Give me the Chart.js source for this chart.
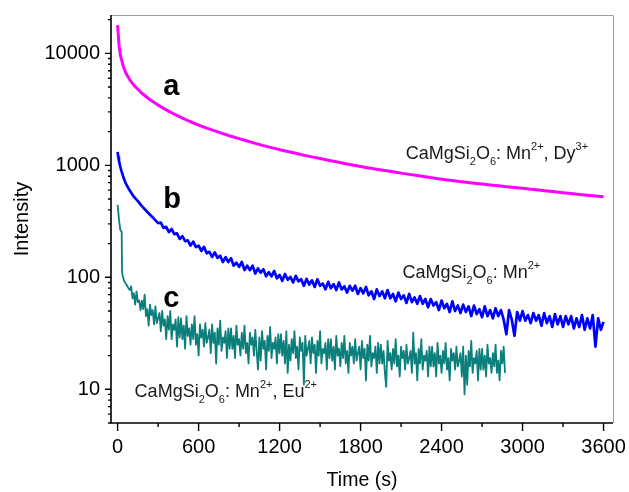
<!DOCTYPE html>
<html>
<head>
<meta charset="utf-8">
<script src="https://cdn.jsdelivr.net/npm/chart.js@4.4.0/dist/chart.umd.min.js"></script>
<style>
  html, body { margin: 0; padding: 0; background: #fff; }
  #wrap { width: 629px; height: 492px; }
</style>
</head>
<body>
<div id="wrap"><canvas id="decay"></canvas></div>
<script>
// axis ticks
const timeTicks = [0, 600, 1200, 1800, 2400, 3000, 3600];
const timeMinor = [300, 900, 1500, 2100, 2700, 3300];
const intensityTicks = [10, 100, 1000, 10000];
const intensityMinor = [5, 6, 7, 8, 9, 20, 30, 40, 50, 60, 70, 80, 90,
  200, 300, 400, 500, 600, 700, 800, 900,
  2000, 3000, 4000, 5000, 6000, 7000, 8000, 9000, 20000];

// curve a : CaMgSi2O6: Mn2+, Dy3+
const timeA = [0, 10, 20, 40, 60, 90, 120, 180, 240, 300, 360, 420, 480, 540, 600,
  660, 720, 780, 840, 900, 960, 1020, 1080, 1140, 1200, 1260, 1320, 1380, 1440, 1500,
  1560, 1620, 1680, 1740, 1800, 1860, 1920, 1980, 2040, 2100, 2160, 2220, 2280, 2340, 2400,
  2460, 2520, 2580, 2640, 2700, 2760, 2820, 2880, 2940, 3000, 3060, 3120, 3180, 3240, 3300,
  3360, 3420, 3480, 3540, 3600];
const valA = [17900, 12000, 9700, 7800, 6700, 5800, 5200, 4400, 3850, 3450, 3130, 2860, 2640, 2450, 2290,
  2150, 2030, 1920, 1820, 1730, 1650, 1570, 1500, 1440, 1380, 1330, 1280, 1230, 1190, 1150,
  1110, 1075, 1040, 1005, 975, 948, 922, 898, 875, 852, 830, 810, 790, 770, 752,
  735, 720, 706, 693, 680, 668, 656, 645, 634, 623, 612, 601, 590, 580, 570,
  560, 550, 541, 533, 525];

// curve b : CaMgSi2O6: Mn2+
const timeB = [0, 5, 10, 20, 30, 45, 60, 90, 120, 150, 180, 210, 240, 270,
  300, 320, 340, 360, 380, 400, 420, 440, 460, 480, 500, 520, 540, 560, 580,
  600, 620, 640, 660, 680, 700, 720, 740, 760, 780, 800, 820, 840, 860, 880,
  900, 920, 940, 960, 980, 1000, 1020, 1040, 1060, 1080, 1100, 1120, 1140, 1160, 1180,
  1200, 1220, 1240, 1260, 1280, 1300, 1320, 1340, 1360, 1380, 1400, 1420, 1440, 1460, 1480,
  1500, 1520, 1540, 1560, 1580, 1600, 1620, 1640, 1660, 1680, 1700, 1720, 1740, 1760, 1780,
  1800, 1820, 1840, 1860, 1880, 1900, 1920, 1940, 1960, 1980, 2000, 2020, 2040, 2060, 2080,
  2100, 2120, 2140, 2160, 2180, 2200, 2220, 2240, 2260, 2280, 2300, 2320, 2340, 2360, 2380,
  2400, 2420, 2440, 2460, 2480, 2500, 2520, 2540, 2560, 2580, 2600, 2620, 2640, 2660, 2680,
  2700, 2720, 2740, 2760, 2780, 2800, 2820, 2840, 2860, 2880, 2900, 2920, 2940, 2960, 2980,
  3000, 3020, 3040, 3060, 3080, 3100, 3120, 3140, 3160, 3180, 3200, 3220, 3240, 3260, 3280,
  3300, 3320, 3340, 3360, 3380, 3400, 3420, 3440, 3460, 3480, 3500, 3520, 3540, 3560, 3580,
  3600];
const valB = [1320, 1180, 1100, 970, 880, 770, 690, 595, 525, 478, 432, 395, 362, 333,
  305, 308, 277, 282, 253, 270, 243, 247, 220, 233, 210, 214, 192, 208, 186,
  192, 172, 187, 164, 169, 152, 167, 149, 156, 137, 151, 137, 148, 127, 135,
  124, 137, 116, 127, 116, 127, 108, 120, 110, 118, 102, 111, 102, 114, 98,
  105, 93, 107, 95, 101, 90, 103, 92, 96, 84, 97, 86, 94, 82, 96,
  84, 88, 78, 91, 80, 87, 77, 90, 78, 83, 73, 84, 76, 84, 71,
  80, 72, 82, 69, 75, 64, 78, 68, 75, 65, 77, 65, 71, 61, 73,
  64, 69, 59, 71, 60, 66, 58, 68, 58, 64, 54, 64, 56, 60, 51,
  62, 53, 58, 49, 61, 50, 56, 48, 57, 49, 55, 45, 56, 47, 52,
  44, 55, 45, 51, 43, 53, 45, 51, 42, 31, 51, 42, 30, 49, 41,
  50, 41, 46, 39, 48, 41, 46, 37, 48, 39, 45, 36, 47, 38, 45,
  36, 45, 38, 45, 35, 43, 36, 46, 34, 43, 35, 46, 24, 43, 34,
  40];

// curve c : CaMgSi2O6: Mn2+, Eu2+
const timeC = [0, 10, 20, 30, 33, 40, 50, 60, 70, 80, 90,
  100, 110, 120, 130, 140, 150, 160, 170, 180, 190, 200, 210, 220, 230, 240, 250, 260, 270, 280, 290,
  300, 310, 320, 330, 340, 350, 360, 370, 380, 390, 400, 410, 420, 430, 440, 450, 460, 470, 480, 490,
  500, 510, 520, 530, 540, 550, 560, 570, 580, 590, 600, 610, 620, 630, 640, 650, 660, 670, 680, 690,
  700, 710, 720, 730, 740, 750, 760, 770, 780, 790, 800, 810, 820, 830, 840, 850, 860, 870, 880, 890,
  900, 910, 920, 930, 940, 950, 960, 970, 980, 990, 1000, 1010, 1020, 1030, 1040, 1050, 1060, 1070, 1080, 1090,
  1100, 1110, 1120, 1130, 1140, 1150, 1160, 1170, 1180, 1190, 1200, 1210, 1220, 1230, 1240, 1250, 1260, 1270, 1280, 1290,
  1300, 1310, 1320, 1330, 1340, 1350, 1360, 1370, 1380, 1390, 1400, 1410, 1420, 1430, 1440, 1450, 1460, 1470, 1480, 1490,
  1500, 1510, 1520, 1530, 1540, 1550, 1560, 1570, 1580, 1590, 1600, 1610, 1620, 1630, 1640, 1650, 1660, 1670, 1680, 1690,
  1700, 1710, 1720, 1730, 1740, 1750, 1760, 1770, 1780, 1790, 1800, 1810, 1820, 1830, 1840, 1850, 1860, 1870, 1880, 1890,
  1900, 1910, 1920, 1930, 1940, 1950, 1960, 1970, 1980, 1990, 2000, 2010, 2020, 2030, 2040, 2050, 2060, 2070, 2080, 2090,
  2100, 2110, 2120, 2130, 2140, 2150, 2160, 2170, 2180, 2190, 2200, 2210, 2220, 2230, 2240, 2250, 2260, 2270, 2280, 2290,
  2300, 2310, 2320, 2330, 2340, 2350, 2360, 2370, 2380, 2390, 2400, 2410, 2420, 2430, 2440, 2450, 2460, 2470, 2480, 2490,
  2500, 2510, 2520, 2530, 2540, 2550, 2560, 2570, 2580, 2590, 2600, 2610, 2620, 2630, 2640, 2650, 2660, 2670, 2680, 2690,
  2700, 2710, 2720, 2730, 2740, 2750, 2760, 2770, 2780, 2790, 2800, 2810, 2820, 2830, 2840, 2850, 2860, 2870];
const valC = [443, 330, 265, 255, 110, 100, 92, 88, 84, 80, 77,
  83, 65, 72, 57, 75, 60, 62, 51, 62, 52, 70, 45, 52, 37, 57, 46, 51, 38, 55, 39,
  43, 48, 33, 50, 37, 42, 28, 45, 34, 50, 28, 38, 34, 42, 24, 44, 29, 43, 28, 37,
  23, 45, 30, 35, 25, 38, 28, 45, 25, 31, 20, 38, 29, 34, 24, 39, 26, 29, 34, 21,
  38, 26, 32, 17, 35, 25, 41, 22, 29, 26, 33, 19, 35, 23, 35, 23, 30, 19, 37, 25,
  28, 20, 32, 23, 37, 21, 26, 17, 32, 25, 29, 20, 34, 22, 15, 29, 18, 33, 23, 27,
  15, 30, 22, 36, 19, 26, 23, 29, 17, 31, 21, 31, 20, 27, 17, 33, 14, 25, 18, 28,
  21, 33, 19, 24, 15, 29, 22, 26, 11, 30, 20, 23, 27, 17, 29, 21, 25, 14, 27, 20,
  33, 17, 23, 21, 26, 15, 28, 19, 28, 18, 24, 15, 30, 20, 23, 16, 26, 19, 30, 17,
  22, 14, 26, 20, 24, 17, 28, 18, 21, 24, 15, 27, 19, 23, 12, 25, 18, 30, 16, 21,
  19, 24, 14, 26, 17, 25, 17, 22, 14, 10.5, 27, 18, 21, 15, 23, 17, 28, 16, 20, 13,
  24, 19, 22, 15, 25, 17, 19, 22, 14, 32, 17, 21, 12, 23, 17, 28, 15, 20, 18, 22,
  13, 24, 16, 24, 16, 21, 13, 26, 17, 20, 14, 22, 17, 26, 15, 19, 12, 23, 18, 21,
  15, 24, 16, 18, 21, 13, 24, 9, 20, 11, 22, 16, 27, 14, 19, 17, 22, 12, 23, 15,
  23, 15, 20, 13, 25, 17, 19, 14, 21, 16, 25, 14, 18, 12, 22, 17, 24, 14];

// text labels, anchored in data coordinates
const curveLetters = [
  { text: 'a', t: 339, v: 4250 },
  { text: 'b', t: 339, v: 416 },
  { text: 'c', t: 339, v: 54 }
];
const formulaLabels = [
  { t: 2135, v: 1130, parts: [['CaMgSi'], ['2', 'sub'], ['O'], ['6', 'sub'], [': Mn'], ['2+', 'sup'], [', Dy'], ['3+', 'sup']] },
  { t: 2110, v: 99, parts: [['CaMgSi'], ['2', 'sub'], ['O'], ['6', 'sub'], [': Mn'], ['2+', 'sup']] },
  { t: 126, v: 8.6, parts: [['CaMgSi'], ['2', 'sub'], ['O'], ['6', 'sub'], [': Mn'], ['2+', 'sup'], [', Eu'], ['2+', 'sup']] }
];

const FONT = '"Liberation Sans", Arial, sans-serif';

function pairs(ts, vs) {
  return ts.map((t, i) => ({ x: t, y: vs[i] }));
}

function drawFormula(ctx, x, y, parts) {
  for (let p of parts) {
    let txt = p[0], kind = p[1];
    let dy = 0;
    if (kind === 'sub') { ctx.font = '11px ' + FONT; dy = 6; }
    else if (kind === 'sup') { ctx.font = '11px ' + FONT; dy = -9; }
    else { ctx.font = '18px ' + FONT; }
    ctx.fillText(txt, x, y + dy);
    x += ctx.measureText(txt).width;
  }
}

// frame, tick marks and text labels
const decoration = {
  id: 'decoration',
  afterDatasetsDraw(chart) {
    const { ctx, chartArea: area, scales: { x, y } } = chart;
    ctx.save();

    ctx.strokeStyle = '#a0a0a0';
    ctx.lineWidth = 1;
    ctx.beginPath();
    ctx.moveTo(area.left, area.top + 0.5);
    ctx.lineTo(area.right + 0.5, area.top + 0.5);
    ctx.lineTo(area.right + 0.5, area.bottom);
    ctx.stroke();

    ctx.strokeStyle = '#000';
    ctx.lineWidth = 1.6;
    ctx.beginPath();
    ctx.moveTo(area.left, area.top);
    ctx.lineTo(area.left, area.bottom);
    ctx.lineTo(area.right, area.bottom);
    ctx.stroke();

    ctx.lineWidth = 1.4;
    ctx.beginPath();
    for (let t of timeTicks) {
      let px = x.getPixelForValue(t);
      ctx.moveTo(px, area.bottom); ctx.lineTo(px, area.bottom + 8);
    }
    for (let t of timeMinor) {
      let px = x.getPixelForValue(t);
      ctx.moveTo(px, area.bottom); ctx.lineTo(px, area.bottom + 4);
    }
    for (let v of intensityTicks) {
      let py = y.getPixelForValue(v);
      ctx.moveTo(area.left, py); ctx.lineTo(area.left - 6, py);
    }
    for (let v of intensityMinor) {
      let py = y.getPixelForValue(v);
      ctx.moveTo(area.left, py); ctx.lineTo(area.left - 3, py);
    }
    ctx.stroke();

    ctx.fillStyle = '#000';
    ctx.textBaseline = 'alphabetic';
    ctx.textAlign = 'left';
    ctx.font = 'bold 29px ' + FONT;
    for (let l of curveLetters) {
      ctx.fillText(l.text, x.getPixelForValue(l.t), y.getPixelForValue(l.v));
    }
    ctx.fillStyle = '#1a1a1a';
    for (let l of formulaLabels) {
      drawFormula(ctx, x.getPixelForValue(l.t), y.getPixelForValue(l.v), l.parts);
    }
    ctx.restore();
  }
};

new Chart('decay', {
  type: 'line',
  data: {
    datasets: [
      { label: 'a', data: pairs(timeA, valA), borderColor: '#ff00ff', borderWidth: 3 },
      { label: 'b', data: pairs(timeB, valB), borderColor: '#0000ff', borderWidth: 2.7 },
      { label: 'c', data: pairs(timeC, valC), borderColor: '#0a7f7c', borderWidth: 1.8 }
    ]
  },
  options: {
    responsive: true,
    maintainAspectRatio: false,
    animation: false,
    parsing: false,
    layout: { padding: { left: 0, right: 16, top: 15, bottom: 0 } },
    elements: {
      point: { radius: 0 },
      line: { tension: 0, borderJoinStyle: 'round' }
    },
    plugins: {
      legend: { display: false },
      tooltip: { enabled: false }
    },
    scales: {
      x: {
        type: 'linear',
        min: -49,
        max: 3670,
        grid: { display: false, drawTicks: false },
        border: { display: false },
        afterBuildTicks: (s) => { s.ticks = timeTicks.map(v => ({ value: v })); },
        afterFit: (s) => { s.height = 69; s.paddingLeft = 0; s.paddingRight = 0; },
        ticks: {
          color: '#000',
          padding: 12,
          maxRotation: 0,
          autoSkip: false,
          font: { family: FONT, size: 20 },
          callback: (v) => String(v)
        },
        title: {
          display: true,
          text: 'Time (s)',
          color: '#000',
          font: { family: FONT, size: 19.5 },
          padding: { top: 2, bottom: 0 }
        }
      },
      y: {
        type: 'logarithmic',
        min: 5,
        max: 22000,
        grid: { display: false, drawTicks: false },
        border: { display: false },
        afterBuildTicks: (s) => { s.ticks = intensityTicks.map(v => ({ value: v })); },
        afterFit: (s) => { s.width = 111; s.paddingTop = 0; s.paddingBottom = 0; },
        ticks: {
          color: '#000',
          padding: 11,
          autoSkip: false,
          font: { family: FONT, size: 20 },
          callback: (v) => String(v)
        },
        title: {
          display: true,
          text: 'Intensity',
          color: '#000',
          font: { family: FONT, size: 20 },
          padding: { top: 10, bottom: 0 }
        }
      }
    }
  },
  plugins: [decoration]
});
</script>
</body>
</html>
